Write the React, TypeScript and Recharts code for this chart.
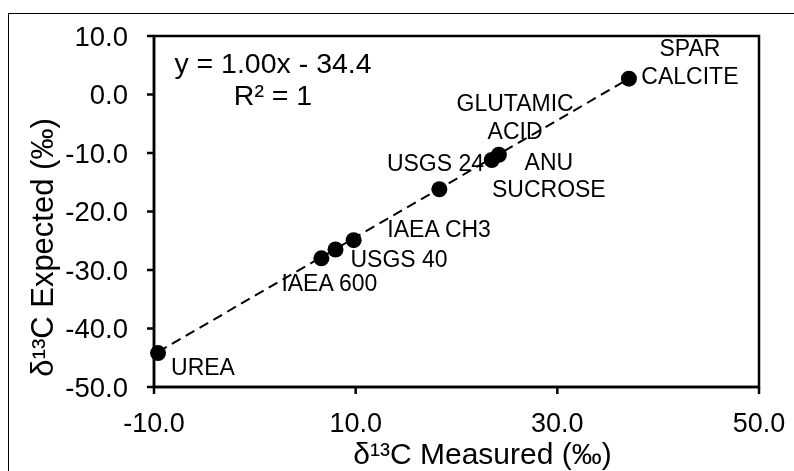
import React from 'react';
import { ScatterChart, Scatter, XAxis, YAxis, ReferenceLine, ReferenceArea, Label } from 'recharts';

const SAMPLE_NAMES = ['UREA', 'IAEA 600', 'USGS 40', 'IAEA CH3', 'USGS 24', 'GLUTAMIC ACID', 'ANU SUCROSE', 'SPAR CALCITE'];
const MEASURED = [-9.6, 6.6, 8.0, 9.8, 18.3, 23.5, 24.2, 37.1];
const EXPECTED = [-44.2, -28.0, -26.5, -24.9, -16.2, -11.2, -10.3, 2.7];
const X_TICKS = [-10, 10, 30, 50];
const Y_TICKS = [-50, -40, -30, -20, -10, 0, 10];
const FIT_SLOPE = 1.0;
const FIT_INTERCEPT = -34.4;
const EQUATION = 'y = 1.00x - 34.4';
const R_SQUARED = 'R² = 1';
const X_TITLE = 'δ¹³C Measured (‰)';
const Y_TITLE = 'δ¹³C Expected (‰)';

// label layout (pixel offsets from the point), kept separate from data
const LABEL_LAYOUT: Record<string, { lines: string[]; dx: number; dy: number; anchor: 'start' | 'middle' | 'end'; lh: number }> = {
  'UREA': { lines: ['UREA'], dx: 13, dy: 22, anchor: 'start', lh: 0 },
  'IAEA 600': { lines: ['IAEA 600'], dx: -40, dy: 33, anchor: 'start', lh: 0 },
  'USGS 40': { lines: ['USGS 40'], dx: 15, dy: 17.4, anchor: 'start', lh: 0 },
  'IAEA CH3': { lines: ['IAEA CH3'], dx: 33.7, dy: -3, anchor: 'start', lh: 0 },
  'USGS 24': { lines: ['USGS 24'], dx: 44.7, dy: -18.6, anchor: 'end', lh: 0 },
  'GLUTAMIC ACID': { lines: ['GLUTAMIC', 'ACID'], dx: 23.3, dy: -49, anchor: 'middle', lh: 28 },
  'ANU SUCROSE': { lines: ['ANU', 'SUCROSE'], dx: 50, dy: 15, anchor: 'middle', lh: 27 },
  'SPAR CALCITE': { lines: ['SPAR', 'CALCITE'], dx: 61, dy: -22.7, anchor: 'middle', lh: 28 },
};

const FONT = '"Liberation Sans", Arial, Helvetica, sans-serif';

const points = SAMPLE_NAMES.map((name, i) => ({ name, x: MEASURED[i], y: EXPECTED[i] }));
const xMin = Math.min(...MEASURED);
const xMax = Math.max(...MEASURED);
const fitSegment = [
  { x: xMin, y: FIT_SLOPE * xMin + FIT_INTERCEPT },
  { x: xMax, y: FIT_SLOPE * xMax + FIT_INTERCEPT },
];

const PointShape = (props: any) => {
  const { cx, cy, payload } = props;
  const lay = LABEL_LAYOUT[payload.name];
  return (
    <g>
      <circle cx={cx} cy={cy} r={8} fill="#000" />
      {lay && (
        <text textAnchor={lay.anchor} fontSize={23} fontFamily={FONT} fill="#000">
          {lay.lines.map((l, i) => (
            <tspan key={i} x={cx + lay.dx} y={cy + lay.dy + i * lay.lh}>{l}</tspan>
          ))}
        </text>
      )}
    </g>
  );
};

const fmt = (v: number) => v.toFixed(1);

export default function App() {
  return (
    <div style={{ position: 'fixed', left: 8, top: 8, width: 786, height: 463 }}>
      <div style={{ position: 'absolute', left: 0, top: 5, width: 786, height: 458, borderTop: '1.5px solid #000', borderLeft: '1.5px solid #000', boxSizing: 'border-box' }} />
      <div style={{ position: 'absolute', left: 0, top: 0 }}>
        <ScatterChart width={786} height={463} margin={{ top: 28, right: 35, left: 26, bottom: 44 }}>
          <ReferenceArea x1={-10} x2={50} y1={-50} y2={10} fill="none" stroke="#000" strokeWidth={2.5} />
          <XAxis
            type="number"
            dataKey="x"
            domain={[-10, 50]}
            ticks={X_TICKS}
            tickFormatter={fmt}
            height={40}
            tickSize={7}
            tickMargin={19}
            axisLine={{ stroke: '#000', strokeWidth: 2.5 }}
            tickLine={{ stroke: '#000', strokeWidth: 2.5 }}
            tick={{ fill: '#000', fontSize: 27, fontFamily: FONT }}
            interval={0}
          >
            <Label
              content={(p: any) => {
                const vb = p.viewBox || {};
                return (
                  <text x={vb.x + vb.width / 2 + 26} y={456} textAnchor="middle" fontSize={30} fontFamily={FONT} fill="#000">
                    {X_TITLE}
                  </text>
                );
              }}
            />
          </XAxis>
          <YAxis
            type="number"
            dataKey="y"
            domain={[-50, 10]}
            ticks={Y_TICKS}
            tickFormatter={fmt}
            width={120}
            tickSize={7}
            tickMargin={19}
            axisLine={{ stroke: '#000', strokeWidth: 2.5 }}
            tickLine={{ stroke: '#000', strokeWidth: 2.5 }}
            tick={{ fill: '#000', fontSize: 27.5, fontFamily: FONT }}
            interval={0}
          >
            <Label
              content={(p: any) => {
                const vb = p.viewBox || {};
                const cy = vb.y + vb.height / 2 + 36;
                return (
                  <text x={45} y={cy} transform={`rotate(-90, 45, ${cy})`} textAnchor="middle" fontSize={31} fontFamily={FONT} fill="#000">
                    {Y_TITLE}
                  </text>
                );
              }}
            />
          </YAxis>
          <ReferenceLine segment={fitSegment} stroke="#000" strokeWidth={2} strokeDasharray="10 6" />
          <Scatter data={points} fill="#000" shape={PointShape} isAnimationActive={false} />
          <ReferenceLine
            y={10}
            stroke="none"
            label={(p: any) => {
              const vb = p.viewBox || {};
              const cx = vb.x + 119;
              return (
                <text textAnchor="middle" fontSize={28.5} fontFamily={FONT} fill="#000">
                  <tspan x={cx} y={vb.y + 36.7}>{EQUATION}</tspan>
                  <tspan x={cx} y={vb.y + 69}>{R_SQUARED}</tspan>
                </text>
              );
            }}
          />
        </ScatterChart>
      </div>
    </div>
  );
}
